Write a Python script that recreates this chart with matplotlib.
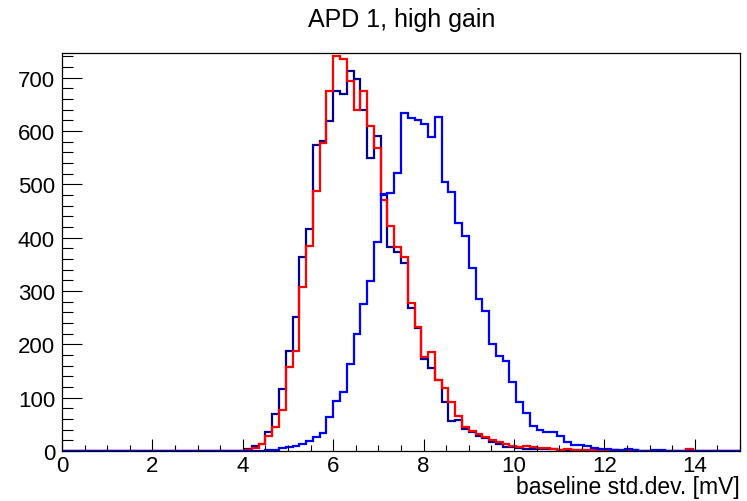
import numpy as np
import matplotlib
matplotlib.use("Agg")
import matplotlib.pyplot as plt
from matplotlib.ticker import MultipleLocator

plt.rcParams["font.family"] = ["Liberation Sans", "DejaVu Sans"]

# histogram binning: 100 bins from 0 to 15 mV
edges = np.linspace(0, 15, 101)
first_bin = 27  # bins before this one are empty

# dark blue histogram (bins 27 .. 99)
counts_dark = [3, 9, 13, 35, 69, 116, 188, 251, 363, 416,
               573, 581, 619, 674, 670, 713, 697, 640, 549, 590,
               480, 382, 373, 352, 268, 231, 172, 155, 134, 92,
               57, 59, 42, 35, 29, 25, 17, 13, 8, 7,
               5, 4, 4, 3, 3, 3, 2, 1, 2, 1,
               1, 1, 2, 1, 1, 0, 0, 1, 0, 0,
               0, 0, 0, 0, 0, 0, 0, 0, 0, 0,
               0, 0, 0]

# red histogram (bins 27 .. 99)
counts_red = [2, 5, 14, 28, 45, 77, 157, 187, 307, 385,
              488, 577, 674, 740, 735, 693, 640, 674, 610, 568,
              471, 421, 383, 363, 278, 232, 176, 186, 134, 118,
              91, 65, 45, 37, 31, 27, 21, 17, 14, 10,
              7, 9, 7, 5, 5, 4, 2, 3, 2, 2,
              1, 2, 1, 1, 1, 0, 2, 0, 0, 0,
              0, 0, 0, 0, 0, 3, 0, 0, 0, 0,
              0, 0, 0]

# bright blue histogram (bins 27 .. 99)
counts_blue = [0, 0, 0, 1, 2, 5, 7, 10, 13, 19,
               27, 34, 63, 93, 111, 163, 219, 276, 319, 392,
               481, 484, 521, 634, 624, 621, 613, 589, 626, 505,
               485, 428, 403, 343, 285, 263, 201, 178, 168, 130,
               91, 71, 47, 40, 35, 35, 29, 17, 12, 12,
               10, 6, 4, 4, 2, 1, 4, 1, 0, 0,
               2, 2, 0, 0, 0, 0, 0, 0, 0, 0,
               0, 0, 0]


def full(counts):
    return np.concatenate([np.zeros(first_bin), np.array(counts, dtype=float)])


fig = plt.figure(figsize=(7.47, 5.02), dpi=100)
ax = fig.add_axes([62 / 747, 50 / 502, 678 / 747, 398 / 502])

ax.stairs(full(counts_dark), edges, color="#000099", lw=1.6)
ax.stairs(full(counts_red), edges, color="#ff0000", lw=1.6)
ax.stairs(full(counts_blue), edges, color="#0000ff", lw=1.6)

ax.set_xlim(0, 15)
ax.set_ylim(0, 746)

ax.xaxis.set_major_locator(MultipleLocator(2))
ax.xaxis.set_minor_locator(MultipleLocator(0.5))
ax.yaxis.set_major_locator(MultipleLocator(100))
ax.yaxis.set_minor_locator(MultipleLocator(20))

ax.tick_params(axis="x", which="major", direction="in", length=8.6, width=0.8,
               labelsize=16, pad=3)
ax.tick_params(axis="x", which="minor", direction="in", length=4.3, width=0.8)
ax.tick_params(axis="y", which="major", direction="in", length=14.4, width=0.8,
               labelsize=16, pad=5)
ax.tick_params(axis="y", which="minor", direction="in", length=7.9, width=0.8)

for s in ax.spines.values():
    s.set_linewidth(0.9)

fig.text(402 / 747, 1 - 20 / 502, "APD 1, high gain", ha="center", va="center",
         fontsize=18)
fig.text(740 / 747, 1 - 488 / 502, "baseline std.dev. [mV]", ha="right",
         va="center", fontsize=16.5)

fig.savefig("out.png", dpi=100)
